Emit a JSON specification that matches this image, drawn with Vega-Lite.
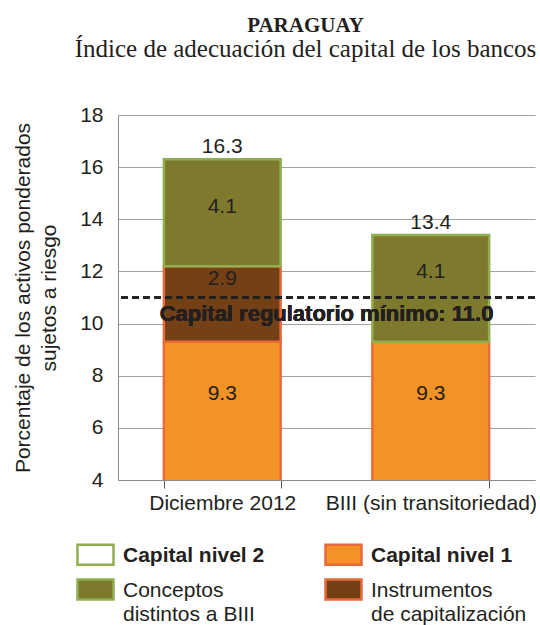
{
  "$schema": "https://vega.github.io/schema/vega-lite/v6.json",
  "autosize": {"type": "none"},
  "padding": {"left": 118, "top": 115, "right": 5, "bottom": 145},
  "width": 417,
  "height": 365,
  "background": "#ffffff",
  "config": {
    "font": "Liberation Sans",
    "view": {"stroke": null},
    "axis": {"labelColor": "#231f20", "titleColor": "#231f20"}
  },
  "title": {
    "text": "PARAGUAY",
    "subtitle": "Índice de adecuación del capital de los bancos",
    "font": "Liberation Serif",
    "fontSize": 21,
    "fontWeight": "bold",
    "color": "#231f20",
    "subtitleFont": "Liberation Serif",
    "subtitleFontSize": 25,
    "subtitleColor": "#231f20",
    "subtitlePadding": 1,
    "anchor": "middle",
    "dx": -21,
    "offset": 42
  },
  "data": {
    "values": [
      {"periodo": "Diciembre 2012", "componente": "Capital nivel 1", "valor": 9.3, "orden": 1},
      {"periodo": "Diciembre 2012", "componente": "Instrumentos de capitalización", "valor": 2.9, "orden": 2},
      {"periodo": "Diciembre 2012", "componente": "Conceptos distintos a BIII", "valor": 4.1, "orden": 3},
      {"periodo": "BIII (sin transitoriedad)", "componente": "Capital nivel 1", "valor": 9.3, "orden": 1},
      {"periodo": "BIII (sin transitoriedad)", "componente": "Conceptos distintos a BIII", "valor": 4.1, "orden": 3}
    ]
  },
  "encoding": {
    "x": {
      "field": "periodo",
      "type": "nominal",
      "sort": ["Diciembre 2012", "BIII (sin transitoriedad)"],
      "scale": {"paddingInner": 0.44, "paddingOuter": 0.22},
      "axis": {
        "title": null,
        "labelAngle": 0,
        "labelFontSize": 21,
        "labelPadding": 4,
        "ticks": true,
        "tickBand": "extent",
        "tickSize": 8,
        "tickColor": "#555555",
        "domainColor": "#8c8c8c",
        "labelLimit": 0
      }
    },
    "y": {
      "type": "quantitative",
      "scale": {"domain": [4, 18], "nice": false},
      "axis": {
        "title": ["Porcentaje de los activos ponderados", "sujetos a riesgo"],
        "titleFontSize": 21,
        "titleFontWeight": "normal",
        "titleLineHeight": 26,
        "titlePadding": 20,
        "values": [4, 6, 8, 10, 12, 14, 16, 18],
        "labelFontSize": 21,
        "labelPadding": 15,
        "ticks": false,
        "grid": true,
        "gridColor": "#a3a3a3",
        "gridWidth": 1,
        "domainColor": "#8c8c8c"
      }
    }
  },
  "layer": [
    {
      "mark": {"type": "bar", "strokeWidth": 2.5, "clip": true},
      "encoding": {
        "y": {"field": "valor", "type": "quantitative", "stack": "zero"},
        "order": {"field": "orden", "type": "quantitative"},
        "color": {
          "field": "componente",
          "type": "nominal",
          "scale": {
            "domain": ["Capital nivel 2", "Capital nivel 1", "Conceptos distintos a BIII", "Instrumentos de capitalización"],
            "range": ["#ffffff", "#f39325", "#7d7a2e", "#744016"]
          },
          "legend": {
            "title": null,
            "orient": "none",
            "legendX": -42,
            "legendY": 420,
            "columns": 2,
            "direction": "horizontal",
            "symbolType": "M-1,-0.5556L1,-0.5556L1,0.5556L-1,0.5556Z",
            "symbolSize": 1296,
            "symbolStrokeWidth": 2.5,
            "symbolOpacity": 1,
            "labelFontSize": 21,
            "labelColor": "#231f20",
            "labelOffset": 8,
            "labelLimit": 0,
            "labelBaseline": "alphabetic",
            "columnPadding": 55,
            "rowPadding": -3,
            "labelExpr": "datum.value == 'Conceptos distintos a BIII' ? ['Conceptos', 'distintos a BIII'] : datum.value == 'Instrumentos de capitalización' ? ['Instrumentos', 'de capitalización'] : datum.label",
            "encode": {
              "labels": {
                "update": {
                  "fontWeight": {"signal": "indexof(['Capital nivel 2', 'Capital nivel 1'], datum.value) >= 0 ? 'bold' : 'normal'"},
                  "dy": {"value": 7},
                  "lineHeight": {"value": 24}
                }
              }
            }
          }
        },
        "stroke": {
          "field": "componente",
          "type": "nominal",
          "scale": {
            "domain": ["Capital nivel 2", "Capital nivel 1", "Conceptos distintos a BIII", "Instrumentos de capitalización"],
            "range": ["#8fae4f", "#e8693a", "#8fae4f", "#e8693a"]
          },
          "legend": null
        }
      }
    },
    {
      "mark": {"type": "rule", "strokeDash": [7, 4], "strokeWidth": 2, "color": "#231f20"},
      "encoding": {"y": {"datum": 11}, "x": null}
    },
    {
      "mark": {"type": "text", "text": "Capital regulatorio mínimo: 11.0", "fontWeight": "bold", "fontSize": 22, "dy": 16, "baseline": "middle", "color": "#231f20"},
      "encoding": {"y": {"datum": 11}, "x": null}
    },
    {
      "mark": {"type": "text", "fontSize": 21, "baseline": "middle", "color": "#231f20"},
      "encoding": {
        "y": {"field": "valor", "type": "quantitative", "stack": "zero", "bandPosition": 0.785},
        "order": {"field": "orden", "type": "quantitative"},
        "detail": {"field": "componente"},
        "text": {"condition": {"test": "datum.componente == 'Capital nivel 1'", "field": "valor", "format": ".1f"}, "value": ""}
      }
    },
    {
      "mark": {"type": "text", "fontSize": 21, "baseline": "middle", "color": "#231f20"},
      "encoding": {
        "y": {"field": "valor", "type": "quantitative", "stack": "zero", "bandPosition": 0.83},
        "order": {"field": "orden", "type": "quantitative"},
        "detail": {"field": "componente"},
        "text": {"condition": {"test": "datum.componente == 'Instrumentos de capitalización'", "field": "valor", "format": ".1f"}, "value": ""}
      }
    },
    {
      "mark": {"type": "text", "fontSize": 21, "baseline": "middle", "color": "#231f20"},
      "encoding": {
        "y": {"field": "valor", "type": "quantitative", "stack": "zero", "bandPosition": 0.556},
        "order": {"field": "orden", "type": "quantitative"},
        "detail": {"field": "componente"},
        "text": {"condition": {"test": "datum.componente == 'Conceptos distintos a BIII' && datum.periodo == 'Diciembre 2012'", "field": "valor", "format": ".1f"}, "value": ""}
      }
    },
    {
      "mark": {"type": "text", "fontSize": 21, "baseline": "middle", "color": "#231f20"},
      "encoding": {
        "y": {"field": "valor", "type": "quantitative", "stack": "zero", "bandPosition": 0.65},
        "order": {"field": "orden", "type": "quantitative"},
        "detail": {"field": "componente"},
        "text": {"condition": {"test": "datum.componente == 'Conceptos distintos a BIII' && datum.periodo != 'Diciembre 2012'", "field": "valor", "format": ".1f"}, "value": ""}
      }
    },
    {
      "mark": {"type": "text", "fontSize": 21, "baseline": "alphabetic", "dy": -6, "color": "#231f20"},
      "encoding": {
        "y": {"aggregate": "sum", "field": "valor", "type": "quantitative"},
        "text": {"aggregate": "sum", "field": "valor", "type": "quantitative", "format": ".1f"}
      }
    }
  ]
}
